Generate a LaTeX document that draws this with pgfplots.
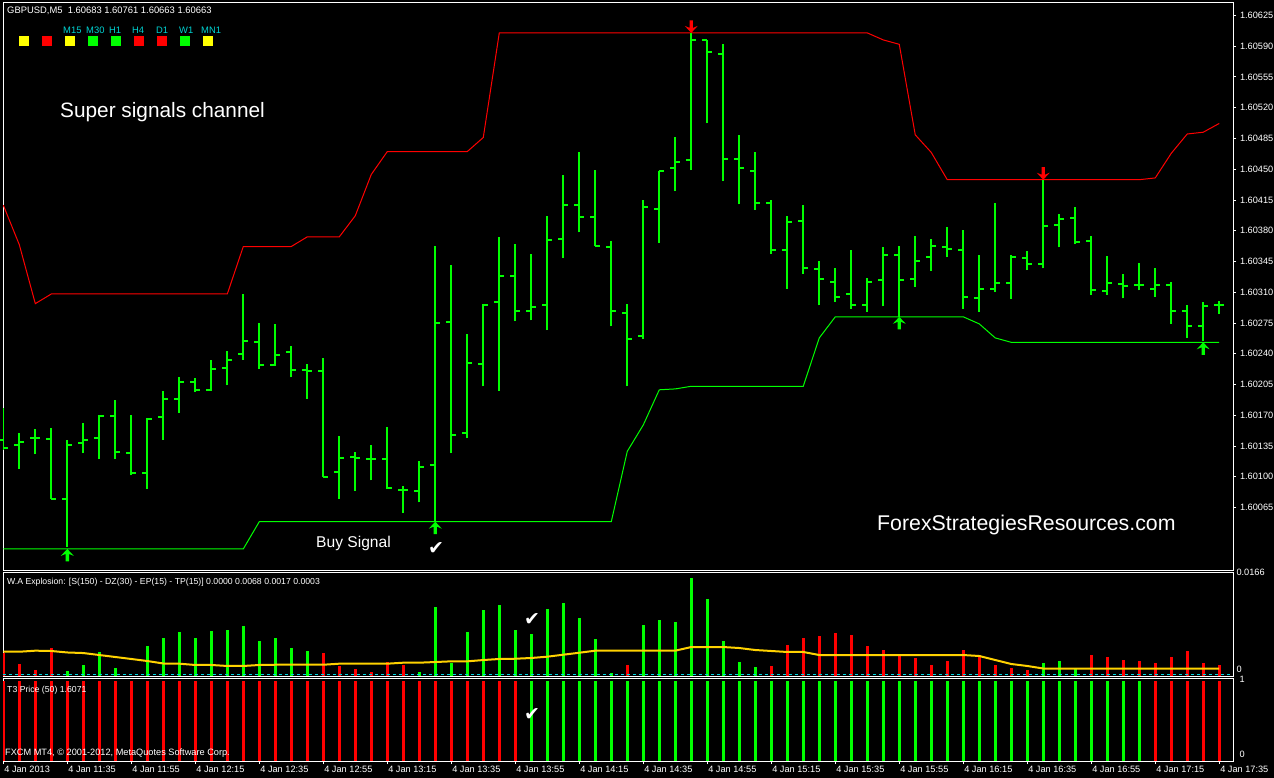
\documentclass[border=0pt]{standalone}
\usepackage{fontspec}
\setmainfont{Liberation Sans}
\newfontfamily\dejavu{DejaVu Sans}
\usepackage{pgfplots}
\pgfplotsset{compat=1.18}
\usepackage{pgfplotstable}

\definecolor{lime}{RGB}{0,255,0}
\definecolor{mtred}{RGB}{255,0,0}
\definecolor{mtyellow}{RGB}{255,210,0}
\definecolor{mtcyan}{RGB}{0,215,225}
\definecolor{sqyellow}{RGB}{255,255,0}
\definecolor{lbl}{RGB}{0,210,210}

\pgfdeclareplotmark{tickL}{\pgfpathmoveto{\pgfqpoint{-5pt}{0pt}}\pgfpathlineto{\pgfqpoint{0pt}{0pt}}\pgfusepathqstroke}
\pgfdeclareplotmark{tickR}{\pgfpathmoveto{\pgfqpoint{0pt}{0pt}}\pgfpathlineto{\pgfqpoint{5pt}{0pt}}\pgfusepathqstroke}
\pgfdeclareplotmark{mtup}{\pgfpathmoveto{\pgfqpoint{0pt}{0pt}}\pgfpathlineto{\pgfqpoint{-6.5pt}{-7pt}}\pgfpathlineto{\pgfqpoint{-1.7pt}{-5pt}}\pgfpathlineto{\pgfqpoint{-1.7pt}{-12.5pt}}\pgfpathlineto{\pgfqpoint{1.7pt}{-12.5pt}}\pgfpathlineto{\pgfqpoint{1.7pt}{-5pt}}\pgfpathlineto{\pgfqpoint{6.5pt}{-7pt}}\pgfpathclose\pgfusepathqfill}
\pgfdeclareplotmark{mtdown}{\pgfpathmoveto{\pgfqpoint{0pt}{0pt}}\pgfpathlineto{\pgfqpoint{-6.5pt}{7pt}}\pgfpathlineto{\pgfqpoint{-1.7pt}{5pt}}\pgfpathlineto{\pgfqpoint{-1.7pt}{12.5pt}}\pgfpathlineto{\pgfqpoint{1.7pt}{12.5pt}}\pgfpathlineto{\pgfqpoint{1.7pt}{5pt}}\pgfpathlineto{\pgfqpoint{6.5pt}{7pt}}\pgfpathclose\pgfusepathqfill}

\pgfplotstableread{
i O H L C
0 1.60142 1.60178 1.60131 1.60133
1 1.60136 1.60150 1.60109 1.60140
2 1.60144 1.60154 1.60126 1.60144
3 1.60143 1.60156 1.60075 1.60075
4 1.60075 1.60142 1.60020 1.60136
5 1.60138 1.60161 1.60127 1.60142
6 1.60144 1.60170 1.60120 1.60169
7 1.60169 1.60187 1.60120 1.60128
8 1.60127 1.60170 1.60102 1.60104
9 1.60104 1.60167 1.60086 1.60166
10 1.60168 1.60198 1.60142 1.60188
11 1.60189 1.60214 1.60173 1.60208
12 1.60208 1.60212 1.60197 1.60199
13 1.60199 1.60233 1.60198 1.60223
14 1.60224 1.60243 1.60204 1.60233
15 1.60240 1.60308 1.60233 1.60254
16 1.60253 1.60275 1.60223 1.60227
17 1.60227 1.60274 1.60226 1.60239
18 1.60242 1.60249 1.60213 1.60222
19 1.60221 1.60228 1.60189 1.60220
20 1.60220 1.60235 1.60100 1.60100
21 1.60105 1.60147 1.60075 1.60121
22 1.60122 1.60128 1.60084 1.60121
23 1.60120 1.60136 1.60096 1.60120
24 1.60120 1.60157 1.60086 1.60087
25 1.60085 1.60090 1.60059 1.60085
26 1.60084 1.60118 1.60071 1.60111
27 1.60114 1.60363 1.60050 1.60275
28 1.60276 1.60341 1.60127 1.60148
29 1.60150 1.60262 1.60144 1.60229
30 1.60228 1.60297 1.60203 1.60296
31 1.60299 1.60373 1.60198 1.60329
32 1.60328 1.60365 1.60277 1.60289
33 1.60289 1.60354 1.60278 1.60293
34 1.60296 1.60397 1.60267 1.60369
35 1.60370 1.60443 1.60349 1.60409
36 1.60409 1.60470 1.60378 1.60396
37 1.60396 1.60449 1.60363 1.60363
38 1.60362 1.60368 1.60271 1.60289
39 1.60286 1.60297 1.60203 1.60257
40 1.60260 1.60415 1.60257 1.60407
41 1.60405 1.60448 1.60366 1.60448
42 1.60451 1.60487 1.60425 1.60458
43 1.60460 1.60605 1.60449 1.60597
44 1.60597 1.60597 1.60502 1.60583
45 1.60581 1.60592 1.60437 1.60462
46 1.60461 1.60489 1.60410 1.60451
47 1.60448 1.60470 1.60404 1.60412
48 1.60411 1.60415 1.60354 1.60358
49 1.60358 1.60397 1.60314 1.60390
50 1.60391 1.60409 1.60331 1.60337
51 1.60336 1.60345 1.60295 1.60325
52 1.60322 1.60337 1.60299 1.60304
53 1.60308 1.60358 1.60291 1.60295
54 1.60296 1.60326 1.60288 1.60322
55 1.60324 1.60361 1.60294 1.60352
56 1.60352 1.60363 1.60282 1.60324
57 1.60325 1.60374 1.60316 1.60345
58 1.60350 1.60370 1.60334 1.60363
59 1.60362 1.60384 1.60350 1.60359
60 1.60358 1.60381 1.60291 1.60304
61 1.60303 1.60352 1.60288 1.60314
62 1.60314 1.60411 1.60310 1.60320
63 1.60320 1.60352 1.60302 1.60350
64 1.60349 1.60357 1.60335 1.60342
65 1.60342 1.60438 1.60337 1.60385
66 1.60386 1.60399 1.60361 1.60393
67 1.60394 1.60407 1.60365 1.60367
68 1.60368 1.60374 1.60307 1.60312
69 1.60311 1.60351 1.60307 1.60320
70 1.60319 1.60331 1.60303 1.60317
71 1.60318 1.60343 1.60312 1.60318
72 1.60314 1.60337 1.60305 1.60318
73 1.60318 1.60322 1.60274 1.60289
74 1.60289 1.60296 1.60258 1.60271
75 1.60272 1.60299 1.60254 1.60294
76 1.60295 1.60300 1.60285 1.60295
}\ohlc

\pgfplotstableread{
i up dn
0 1.60409 1.60018
1 1.60364 1.60018
2 1.60297 1.60018
3 1.60308 1.60018
4 1.60308 1.60018
5 1.60308 1.60018
6 1.60308 1.60018
7 1.60308 1.60018
8 1.60308 1.60018
9 1.60308 1.60018
10 1.60308 1.60018
11 1.60308 1.60018
12 1.60308 1.60018
13 1.60308 1.60018
14 1.60308 1.60018
15 1.60362 1.60018
16 1.60362 1.60049
17 1.60362 1.60049
18 1.60362 1.60049
19 1.60373 1.60049
20 1.60373 1.60049
21 1.60373 1.60049
22 1.60397 1.60049
23 1.60444 1.60049
24 1.60470 1.60049
25 1.60470 1.60049
26 1.60470 1.60049
27 1.60470 1.60049
28 1.60470 1.60049
29 1.60470 1.60049
30 1.60486 1.60049
31 1.60605 1.60049
32 1.60605 1.60049
33 1.60605 1.60049
34 1.60605 1.60049
35 1.60605 1.60049
36 1.60605 1.60049
37 1.60605 1.60049
38 1.60605 1.60049
39 1.60605 1.60129
40 1.60605 1.60159
41 1.60605 1.60199
42 1.60605 1.60200
43 1.60605 1.60203
44 1.60605 1.60203
45 1.60605 1.60203
46 1.60605 1.60203
47 1.60605 1.60203
48 1.60605 1.60203
49 1.60605 1.60203
50 1.60605 1.60203
51 1.60605 1.60258
52 1.60605 1.60282
53 1.60605 1.60282
54 1.60605 1.60282
55 1.60597 1.60282
56 1.60592 1.60282
57 1.60489 1.60282
58 1.60469 1.60282
59 1.60438 1.60282
60 1.60438 1.60282
61 1.60438 1.60274
62 1.60438 1.60258
63 1.60438 1.60253
64 1.60438 1.60253
65 1.60438 1.60253
66 1.60438 1.60253
67 1.60438 1.60253
68 1.60438 1.60253
69 1.60438 1.60253
70 1.60438 1.60253
71 1.60438 1.60253
72 1.60440 1.60253
73 1.60468 1.60253
74 1.60490 1.60253
75 1.60492 1.60253
76 1.60502 1.60253
}\chan

\pgfplotstableread{
i g r yl
0 0 0.00367 0.00392
1 0 0.00194 0.00392
2 0 0.00097 0.00409
3 0 0.00452 0.00404
4 0.00081 0 0.00380
5 0.00178 0 0.00371
6 0.00388 0 0.00339
7 0.00129 0 0.00307
8 0 0 0.00275
9 0.00485 0 0.00242
10 0.00614 0 0.00202
11 0.00711 0 0.00199
12 0.00614 0 0.00178
13 0.00727 0 0.00178
14 0.00743 0 0.00162
15 0.00808 0 0.00162
16 0.00565 0 0.00178
17 0.00614 0 0.00182
18 0.00452 0 0.00182
19 0.00404 0 0.00182
20 0 0.00371 0.00182
21 0 0.00162 0.00199
22 0 0.00113 0.00199
23 0 0.00065 0.00199
24 0 0.00226 0.00199
25 0 0.00178 0.00215
26 0.00065 0 0.00215
27 0.01114 0 0.00226
28 0.00210 0 0.00237
29 0.00711 0 0.00237
30 0.01066 0 0.00258
31 0.01147 0 0.00275
32 0.00743 0 0.00279
33 0.00678 0 0.00291
34 0.01082 0 0.00312
35 0.01179 0 0.00344
36 0.00937 0 0.00376
37 0.00598 0 0.00409
38 0.00048 0 0.00409
39 0 0.00178 0.00409
40 0.00824 0 0.00409
41 0.00904 0 0.00409
42 0.00872 0 0.00409
43 0.01583 0 0.00468
44 0.01244 0 0.00468
45 0.00565 0 0.00468
46 0.00226 0 0.00452
47 0.00145 0 0.00420
48 0 0.00162 0.00404
49 0 0.00501 0.00388
50 0 0.00614 0.00388
51 0 0.00646 0.00339
52 0 0.00694 0.00339
53 0 0.00662 0.00339
54 0 0.00485 0.00339
55 0 0.00420 0.00339
56 0 0.00323 0.00339
57 0 0.00291 0.00339
58 0 0.00178 0.00339
59 0 0.00242 0.00339
60 0 0.00420 0.00339
61 0 0.00339 0.00323
62 0 0.00178 0.00258
63 0 0.00129 0.00194
64 0 0.00097 0.00162
65 0.00210 0 0.00121
66 0.00242 0 0.00121
67 0.00129 0 0.00121
68 0 0.00339 0.00121
69 0 0.00307 0.00121
70 0 0.00258 0.00121
71 0 0.00242 0.00121
72 0 0.00210 0.00121
73 0 0.00307 0.00121
74 0 0.00404 0.00121
75 0 0.00210 0.00121
76 0 0.00178 0.00121
}\expl

\pgfplotstableread{
i g r
0 0 1
1 0 1
2 0 1
3 0 1
4 0 1
5 0 1
6 0 1
7 0 1
8 0 1
9 0 1
10 0 1
11 0 1
12 0 1
13 0 1
14 0 1
15 0 1
16 0 1
17 0 1
18 0 1
19 0 1
20 0 1
21 0 1
22 0 1
23 0 1
24 0 1
25 0 1
26 0 1
27 0 1
28 0 1
29 0 1
30 0 1
31 0 1
32 0 1
33 1 0
34 1 0
35 1 0
36 1 0
37 1 0
38 1 0
39 1 0
40 1 0
41 1 0
42 1 0
43 1 0
44 1 0
45 1 0
46 1 0
47 1 0
48 1 0
49 1 0
50 1 0
51 1 0
52 1 0
53 1 0
54 1 0
55 1 0
56 1 0
57 1 0
58 1 0
59 1 0
60 1 0
61 1 0
62 1 0
63 1 0
64 1 0
65 1 0
66 1 0
67 1 0
68 1 0
69 1 0
70 1 0
71 1 0
72 0 1
73 0 1
74 0 1
75 0 1
76 0 1
}\tthree

\pgfplotsset{
  mt/.style={
    scale only axis, width=1230pt, xmin=-0.02, xmax=76.86,
    axis line style={white, line width=1pt},
    tick style={white, line width=0.8pt},
    ticklabel style={text=white, font=\fontsize{9.2}{10}\selectfont},
    /pgf/number format/assume math mode=true,
    scaled y ticks=false, scaled x ticks=false,
    xtick=\empty, ytick pos=right, yticklabel pos=right,
    tick align=outside, major tick length=3pt,
  }
}

\begin{document}
\begin{tikzpicture}
\fill[black] (0pt,0pt) rectangle (1274pt,-778pt);
\useasboundingbox (0pt,0pt) rectangle (1274pt,-778pt);

% main price panel
\begin{axis}[mt, at={(3pt,-3pt)}, anchor=north west, height=567pt,
  ymin=1.59994, ymax=1.60639,
  ytick={1.60065,1.601,1.60135,1.6017,1.60205,1.6024,1.60275,1.6031,1.60345,1.6038,1.60415,1.6045,1.60485,1.6052,1.60555,1.6059,1.60625},
  yticklabels={1.60065,1.60100,1.60135,1.60170,1.60205,1.60240,1.60275,1.60310,1.60345,1.60380,1.60415,1.60450,1.60485,1.60520,1.60555,1.60590,1.60625},
  yticklabel style={xshift=0.5pt}]
\addplot[mtred, line width=1pt] table[x=i, y=up] {\chan};
\addplot[lime, line width=1pt] table[x=i, y=dn] {\chan};
\addplot[draw=none, error bars/.cd, y dir=plus, y explicit, error mark=none,
  error bar style={draw=lime, line width=2pt, solid}]
  table[x=i, y=L, y error expr=\thisrow{H}-\thisrow{L}] {\ohlc};
\addplot[only marks, mark=tickL, mark options={draw=lime, line width=2pt}] table[x=i, y=O] {\ohlc};
\addplot[only marks, mark=tickR, mark options={draw=lime, line width=2pt}] table[x=i, y=C] {\ohlc};
\addplot[only marks, mark=mtup, mark options={fill=lime, draw=none}] coordinates {(4,1.60018) (27,1.60049) (56,1.60282) (75,1.60253)};
\addplot[only marks, mark=mtdown, mark options={fill=mtred, draw=none}] coordinates {(43,1.60605) (65,1.60438)};
\addplot[scatter, only marks, mark=square*, mark size=4.5pt, scatter src=explicit symbolic,
  scatter/classes={y={mark=square*, fill=sqyellow, draw=sqyellow}, r={mark=square*, fill=mtred, draw=mtred}, g={mark=square*, fill=lime, draw=lime}}]
  table[x=x, y=y, meta=c] {
x y c
1.29 1.60596 y
2.73 1.60596 r
4.17 1.60596 y
5.61 1.60596 g
7.04 1.60596 g
8.48 1.60596 r
9.92 1.60596 r
11.36 1.60596 g
12.79 1.60596 y
};
\end{axis}

% W.A Explosion panel
\begin{axis}[mt, at={(3pt,-572pt)}, anchor=north west, height=104pt,
  ymin=0, ymax=0.0168, major tick length=0pt,
  ytick={0}, yticklabels={0}, yticklabel style={yshift=7pt},
  extra y ticks={0.0166}, extra y tick labels={0.0166},
  extra y tick style={yticklabel style={yshift=-6pt}, major tick length=0pt}]
\addplot[ycomb, lime, line width=3pt] table[x=i, y=g] {\expl};
\addplot[ycomb, mtred, line width=3pt] table[x=i, y=r] {\expl};
\addplot[mtyellow, line width=2pt] table[x=i, y=yl] {\expl};
\addplot[mtcyan, line width=1pt, dash pattern=on 3pt off 3pt] coordinates {(-0.02,0.0003) (76.86,0.0003)};
\end{axis}

% T3 Price panel
\begin{axis}[mt, at={(3pt,-678pt)}, anchor=north west, height=83pt,
  ymin=0, ymax=1.0375,
  ytick={0}, yticklabels={0}, yticklabel style={yshift=7pt},
  extra y ticks={1}, extra y tick labels={1},
  extra y tick style={yticklabel style={yshift=-5pt}},
  ytick style={draw=none},
  xtick={0,4,...,76}, xtick pos=left,
  xticklabels={4 Jan 2013,4 Jan 11:35,4 Jan 11:55,4 Jan 12:15,4 Jan 12:35,4 Jan 12:55,4 Jan 13:15,4 Jan 13:35,4 Jan 13:55,4 Jan 14:15,4 Jan 14:35,4 Jan 14:55,4 Jan 15:15,4 Jan 15:35,4 Jan 15:55,4 Jan 16:15,4 Jan 16:35,4 Jan 16:55,4 Jan 17:15,4 Jan 17:35},
  xticklabel style={anchor=north west, xshift=-2.5pt, yshift=1pt}]
\addplot[ycomb, lime, line width=3pt] table[x=i, y=g] {\tthree};
\addplot[ycomb, mtred, line width=3pt] table[x=i, y=r] {\tthree};
\end{axis}

% texts
\begin{scope}[every node/.style={inner sep=0pt, text=white}]
\node[anchor=west, font=\fontsize{9.4}{10}\selectfont] at (7pt,-11pt) {GBPUSD,M5\ \ 1.60683 1.60761 1.60663 1.60663};
\foreach \t/\xx in {M15/63, M30/86, H1/109, H4/132, D1/156, W1/179, MN1/201}
  \node[anchor=west, text=lbl, font=\fontsize{9.4}{10}\selectfont] at (\xx pt,-30pt) {\t};
\node[anchor=west, font=\fontsize{20.8}{23}\selectfont] at (60pt,-112pt) {Super signals channel};
\node[anchor=west, font=\fontsize{15.6}{17}\selectfont] at (316pt,-543pt) {Buy Signal};
\node[anchor=west, font=\fontsize{21.3}{24}\selectfont] at (877pt,-525pt) {ForexStrategiesResources.com};
\node[font=\dejavu\fontsize{19}{20}\selectfont] at (436pt,-549pt) {✔};
\node[font=\dejavu\fontsize{19}{20}\selectfont] at (532pt,-620pt) {✔};
\node[font=\dejavu\fontsize{19}{20}\selectfont] at (532pt,-715pt) {✔};
\node[anchor=west, font=\fontsize{8.7}{10}\selectfont] at (7pt,-582pt) {W.A Explosion: [S(150) - DZ(30) - EP(15) - TP(15)] 0.0000 0.0068 0.0017 0.0003};
\node[anchor=west, font=\fontsize{8.7}{10}\selectfont] at (7pt,-690pt) {T3 Price (50) 1.6071};
\node[anchor=west, font=\fontsize{9.2}{10}\selectfont] at (5pt,-753pt) {FXCM MT4, © 2001-2012, MetaQuotes Software Corp.};
\end{scope}
\end{tikzpicture}
\end{document}
